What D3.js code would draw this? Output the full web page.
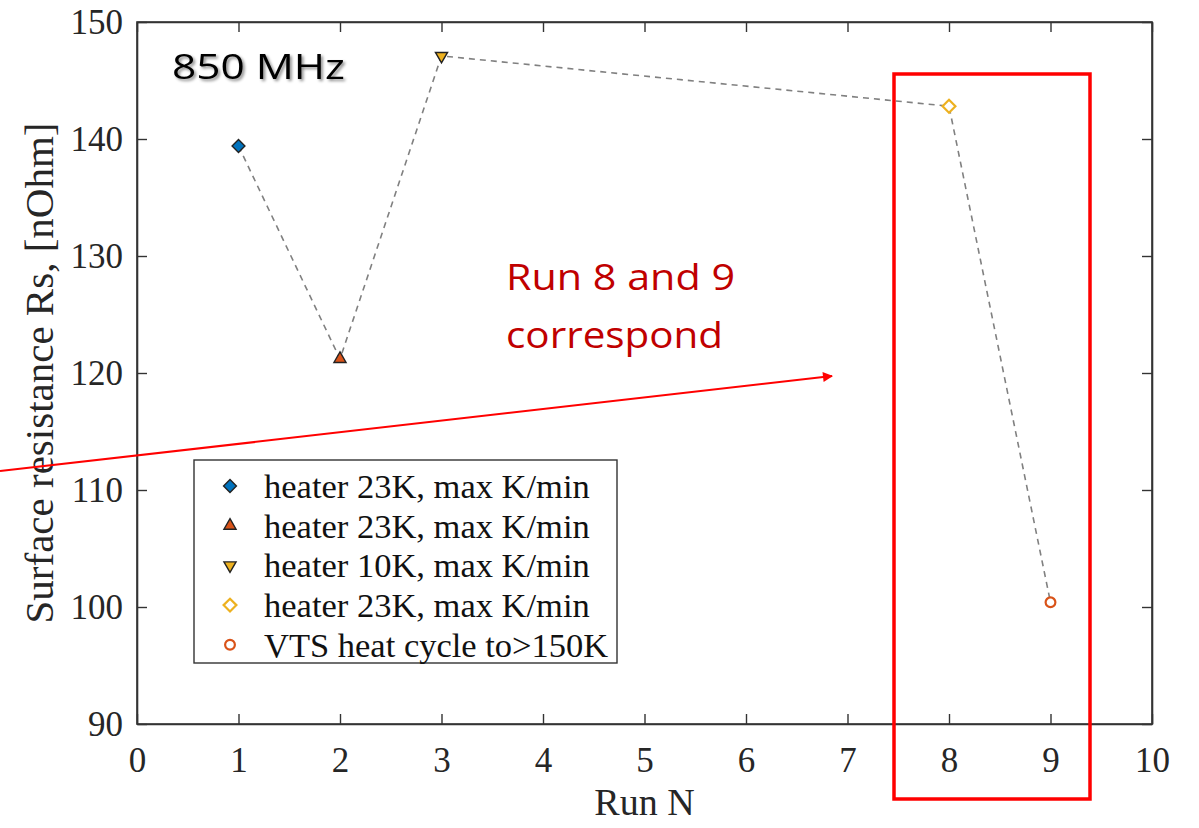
<!DOCTYPE html>
<html>
<head>
<meta charset="utf-8">
<script src="https://cdn.jsdelivr.net/npm/d3@7"></script>
<style>
  body { margin: 0; background: #fff; }
  svg { display: block; }
</style>
</head>
<body>
<div id="vis"></div>
<script>
const FRAME_WIDTH = 1199;
const FRAME_HEIGHT = 828;
const MARGINS = {left: 137, right: 47, top: 22, bottom: 104};

// data
const runs = [1, 2, 3, 8, 9];
const rs = [139.4, 121.2, 147.1, 142.8, 100.4];
const labels = ["heater 23K, max K/min", "heater 23K, max K/min", "heater 10K, max K/min",
                "heater 23K, max K/min", "VTS heat cycle to>150K"];
const shapes = ["diamond", "triangle", "triangleDown", "diamond", "circle"];
const fills = ["#0072BD", "#D95319", "#EDB120", "none", "none"];
const strokes = ["#222", "#222", "#222", "#EDB120", "#D95319"];
const xTicks = [0, 1, 2, 3, 4, 5, 6, 7, 8, 9, 10];
const yTicks = [90, 100, 110, 120, 130, 140, 150];

const VIS_WIDTH = FRAME_WIDTH - MARGINS.left - MARGINS.right;
const VIS_HEIGHT = FRAME_HEIGHT - MARGINS.top - MARGINS.bottom;

const svg = d3.select("#vis").append("svg")
  .attr("width", FRAME_WIDTH)
  .attr("height", FRAME_HEIGHT);

const defs = svg.append("defs");
const shadow = defs.append("filter").attr("id", "shadow")
  .attr("x", "-10%").attr("y", "-20%").attr("width", "130%").attr("height", "150%");
shadow.append("feDropShadow").attr("dx", 2).attr("dy", 2).attr("stdDeviation", 1.5)
  .attr("flood-color", "#000").attr("flood-opacity", 0.45);
defs.append("marker").attr("id", "arrow")
  .attr("viewBox", "0 0 10 10").attr("refX", 9).attr("refY", 5)
  .attr("markerWidth", 14).attr("markerHeight", 10)
  .attr("markerUnits", "userSpaceOnUse")
  .attr("orient", "auto")
  .append("path").attr("d", "M0,0 L10,5 L0,10 z").attr("fill", "#ff0000");

const X_SCALE = d3.scaleLinear().domain([0, 10]).range([MARGINS.left, MARGINS.left + VIS_WIDTH]);
const Y_SCALE = d3.scaleLinear().domain([90, 150]).range([MARGINS.top + VIS_HEIGHT, MARGINS.top]);

const axisColor = "#333";
const tickFont = "'Liberation Serif', 'Times New Roman', serif";

// frame box
svg.append("rect")
  .attr("x", MARGINS.left).attr("y", MARGINS.top)
  .attr("width", VIS_WIDTH).attr("height", VIS_HEIGHT)
  .attr("fill", "none").attr("stroke", axisColor).attr("stroke-width", 1.6);

function styleAxis(g) {
  g.select(".domain").attr("stroke", axisColor).attr("stroke-width", 1.6);
  g.selectAll(".tick line").attr("stroke", axisColor).attr("stroke-width", 1.4);
  g.selectAll(".tick text").attr("fill", "#262626")
    .attr("font-family", tickFont).attr("font-size", 35);
}

// bottom axis (ticks inward)
svg.append("g")
  .attr("transform", "translate(0," + (MARGINS.top + VIS_HEIGHT) + ")")
  .call(d3.axisBottom(X_SCALE).tickValues(xTicks).tickSizeInner(-10).tickSizeOuter(0).tickPadding(23))
  .call(styleAxis);

// top ticks
svg.append("g")
  .attr("transform", "translate(0," + MARGINS.top + ")")
  .call(d3.axisTop(X_SCALE).tickValues(xTicks).tickSizeInner(-10).tickSizeOuter(0).tickFormat(""))
  .call(styleAxis);

// left axis
svg.append("g")
  .attr("transform", "translate(" + MARGINS.left + ",0)")
  .call(d3.axisLeft(Y_SCALE).tickValues(yTicks).tickSizeInner(-10).tickSizeOuter(0).tickPadding(14))
  .call(styleAxis);

// right ticks
svg.append("g")
  .attr("transform", "translate(" + (MARGINS.left + VIS_WIDTH) + ",0)")
  .call(d3.axisRight(Y_SCALE).tickValues(yTicks).tickSizeInner(-10).tickSizeOuter(0).tickFormat(""))
  .call(styleAxis);

// axis titles
svg.append("text")
  .attr("x", X_SCALE(5)).attr("y", 815)
  .attr("text-anchor", "middle")
  .attr("font-family", tickFont).attr("font-size", 38).attr("fill", "#262626")
  .text("Run N");

svg.append("text")
  .attr("transform", "translate(53," + Y_SCALE(120) + ") rotate(-90)")
  .attr("text-anchor", "middle")
  .attr("font-family", tickFont).attr("font-size", 41).attr("fill", "#262626")
  .text("Surface resistance Rs, [nOhm]");

// dashed connecting line
const line = d3.line().x((d, i) => X_SCALE(runs[i])).y((d) => Y_SCALE(d));
svg.append("path")
  .datum(rs)
  .attr("d", line)
  .attr("fill", "none")
  .attr("stroke", "#808080")
  .attr("stroke-width", 1.6)
  .attr("stroke-dasharray", "6,5");

const symbolTypes = {
  diamond: d3.symbolDiamond2,
  triangle: d3.symbolTriangle2,
  triangleDown: d3.symbolTriangle2,
  circle: d3.symbolCircle
};
function symbolPath(shape) {
  const size = shape === "circle" ? 75 : 105;
  return d3.symbol().type(symbolTypes[shape]).size(size)();
}
function rot(shape) { return shape === "triangleDown" ? " rotate(180)" : ""; }

// markers
svg.selectAll(".point")
  .data(rs)
  .enter()
  .append("path")
    .attr("class", "point")
    .attr("d", (d, i) => symbolPath(shapes[i]))
    .attr("transform", (d, i) => "translate(" + X_SCALE(runs[i]) + "," + Y_SCALE(d) + ")" + rot(shapes[i]))
    .attr("fill", (d, i) => fills[i] === "none" ? "#fff" : fills[i])
    .attr("stroke", (d, i) => strokes[i])
    .attr("stroke-width", (d, i) => fills[i] === "none" ? 2.2 : 1.4);

// legend
const legend = svg.append("g");
legend.append("rect")
  .attr("x", 194).attr("y", 460).attr("width", 423).attr("height", 203)
  .attr("fill", "#fff").attr("stroke", axisColor).attr("stroke-width", 1.4);
const legRows = legend.selectAll(".leg")
  .data(labels)
  .enter()
  .append("g")
    .attr("transform", (d, i) => "translate(0," + (486 + i * 39.7) + ")");
legRows.append("path")
  .attr("d", (d, i) => symbolPath(shapes[i]))
  .attr("transform", (d, i) => "translate(230,0)" + rot(shapes[i]))
  .attr("fill", (d, i) => fills[i] === "none" ? "#fff" : fills[i])
  .attr("stroke", (d, i) => strokes[i])
  .attr("stroke-width", (d, i) => fills[i] === "none" ? 2.2 : 1.4);
legRows.append("text")
  .attr("x", 264).attr("y", 12)
  .attr("font-family", tickFont).attr("font-size", 34.5).attr("fill", "#111")
  .text((d) => d);

// annotations
svg.append("text")
  .attr("x", 172).attr("y", 79)
  .attr("font-family", "'Open Sans', 'Noto Sans', sans-serif").attr("font-size", 35)
  .attr("textLength", 173).attr("lengthAdjust", "spacingAndGlyphs")
  .attr("fill", "#000").attr("filter", "url(#shadow)")
  .text("850 MHz");

const note = svg.append("g")
  .attr("font-family", "'Open Sans', 'Noto Sans', sans-serif").attr("font-size", 36)
  .attr("fill", "#c00000");
note.append("text").attr("x", 506).attr("y", 290)
  .attr("textLength", 229).attr("lengthAdjust", "spacingAndGlyphs").text("Run 8 and 9");
note.append("text").attr("x", 506).attr("y", 348)
  .attr("textLength", 217).attr("lengthAdjust", "spacingAndGlyphs").text("correspond");

svg.append("line")
  .attr("x1", 0).attr("y1", 471).attr("x2", 832).attr("y2", 376)
  .attr("stroke", "#ff0000").attr("stroke-width", 2.2)
  .attr("marker-end", "url(#arrow)");

svg.append("rect")
  .attr("x", 894).attr("y", 74).attr("width", 196).attr("height", 725)
  .attr("fill", "none").attr("stroke", "#ff0000").attr("stroke-width", 3.5);
</script>
</body>
</html>
